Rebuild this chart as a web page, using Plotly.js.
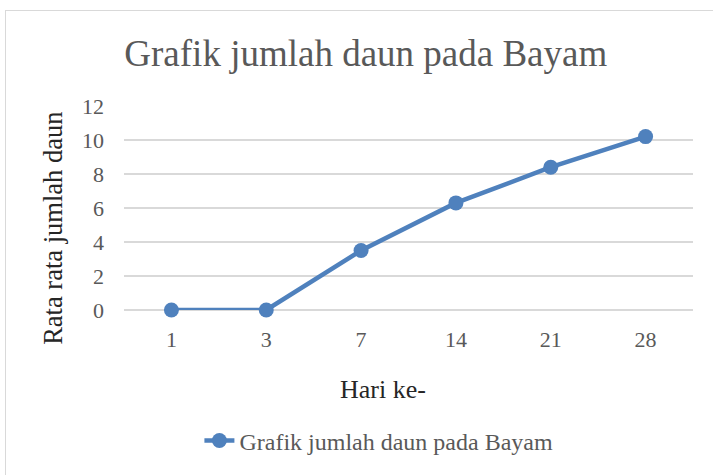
<!DOCTYPE html>
<html>
<head>
<meta charset="utf-8">
<script src="https://cdn.plot.ly/plotly-3.0.1.min.js"></script>
<style>
html,body{margin:0;padding:0;background:#fff;}
#chart{width:713px;height:475px;position:relative;}
#frame{position:absolute;left:5px;top:10px;width:720px;height:480px;border:1.5px solid #d9d9d9;pointer-events:none;}
</style>
</head>
<body>
<div style="position:relative;width:713px;height:475px;overflow:hidden;">
<div id="chart"></div>
<div id="frame"></div>
</div>
<script>
var categories = ['1', '3', '7', '14', '21', '28'];
var values = [0, 0, 3.5, 6.3, 8.4, 10.2];
var seriesName = 'Grafik jumlah daun pada Bayam';
var yTicks = [0, 2, 4, 6, 8, 10, 12];
var xTitle = 'Hari ke-';
var yTitle = 'Rata rata jumlah daun';

var font = 'Liberation Serif, Times New Roman, serif';
var trace = {
  x: categories,
  y: values,
  type: 'scatter',
  mode: 'lines+markers',
  name: seriesName,
  line: {color: '#4f81bd', width: 4.5},
  marker: {color: '#4f81bd', size: 15},
  cliponaxis: false
};
var layout = {
  width: 713, height: 475,
  margin: {l: 123.5, r: 19.5, t: 106, b: 165},
  paper_bgcolor: 'rgba(0,0,0,0)',
  plot_bgcolor: 'rgba(0,0,0,0)',
  font: {family: font, color: '#595959', size: 22},
  title: {text: 'Grafik jumlah daun pada Bayam', font: {family: font, size: 37, color: '#595959'},
          x: 0.513, xanchor: 'center', y: 0.888, yanchor: 'middle'},
  xaxis: {type: 'category', range: [-0.5, 5.5], showgrid: false, zeroline: false,
          showline: false, ticks: '', tickfont: {size: 22, color: '#595959'},
          ticklabelstandoff: 14},
  yaxis: {range: [0, 12], tickvals: yTicks, showgrid: true, gridcolor: '#d9d9d9', gridwidth: 1.5,
          zeroline: true, zerolinecolor: '#d9d9d9', zerolinewidth: 1.5, showline: false, ticks: '',
          ticklabelstandoff: 19,
          tickfont: {size: 22, color: '#595959'}},
  annotations: [
    {text: xTitle, xref: 'paper', yref: 'paper', x: 0.456, y: -0.392, xanchor: 'center', yanchor: 'middle',
     showarrow: false, font: {size: 26, color: '#262626'}},
    {text: yTitle, xref: 'paper', yref: 'paper', x: -0.125, y: 0.402, xanchor: 'center', yanchor: 'middle',
     textangle: -90, showarrow: false, font: {size: 26.5, color: '#262626'}}
  ],
  showlegend: true,
  legend: {orientation: 'h', x: 0.448, xanchor: 'center', y: -0.642, yanchor: 'middle',
           font: {size: 24, color: '#595959'}},
};
Plotly.newPlot('chart', [trace], layout, {displayModeBar: false, staticPlot: true});
</script>
</body>
</html>
